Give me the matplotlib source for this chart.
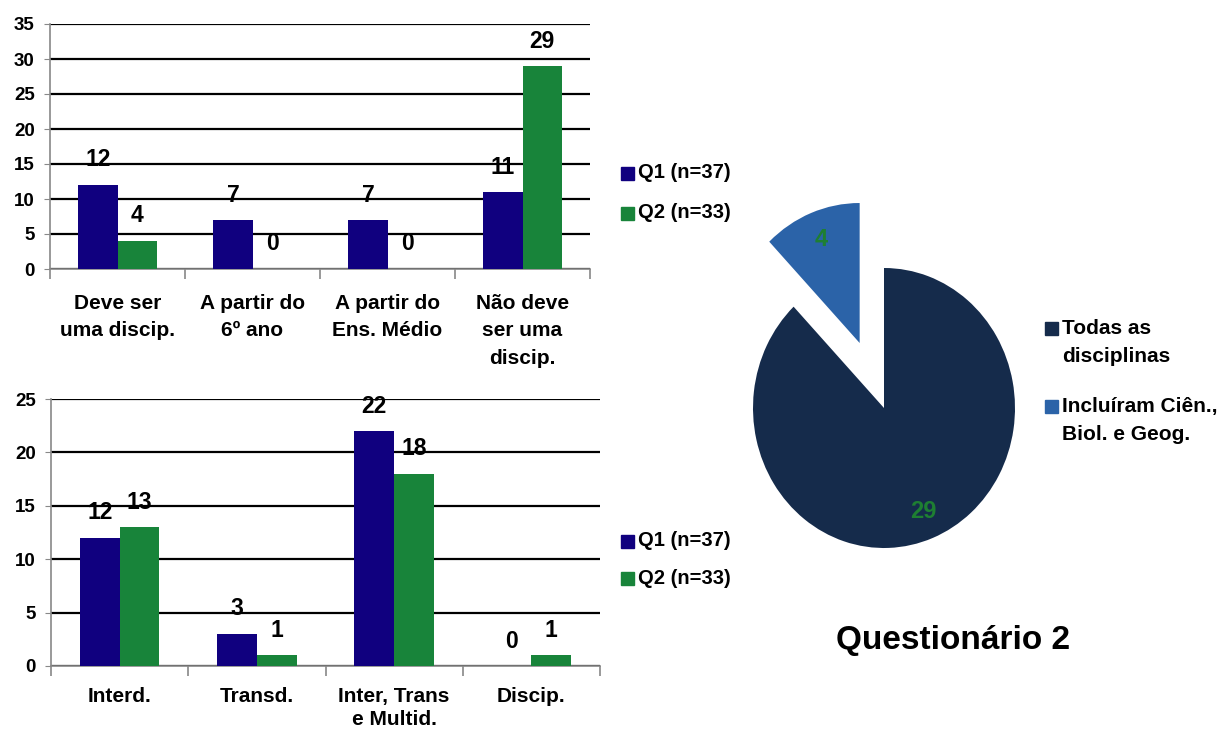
import numpy as np
import matplotlib
matplotlib.use('Agg')
import matplotlib.pyplot as plt
from matplotlib.patches import Rectangle

plt.rcParams['font.family'] = ['Liberation Sans', 'DejaVu Sans']
plt.rcParams['font.weight'] = 'bold'

# dados dos gráficos
cats_top = ['Deve ser\numa discip.', 'A partir do\n6º ano', 'A partir do\nEns. Médio', 'Não deve\nser uma\ndiscip.']
q1_top = [12, 7, 7, 11]
q2_top = [4, 0, 0, 29]

cats_bot = ['Interd.', 'Transd.', 'Inter, Trans\ne Multid.', 'Discip.']
q1_bot = [12, 3, 22, 0]
q2_bot = [13, 1, 18, 1]

series = ['Q1 (n=37)', 'Q2 (n=33)']

pie_labels = ['Todas as\ndisciplinas', 'Incluíram Ciên.,\nBiol. e Geog.']
pie_vals = [29, 4]
pie_title = 'Questionário 2'

c_q1 = '#10007F'
c_q2 = '#18843A'
c_pie = ['#152B4B', '#2B63A8']
c_lbl = '#1E7F32'

W, H = 1227, 730
fig = plt.figure(figsize=(W / 100, H / 100), dpi=100)


def barras(ax, cats, v1, v2, ymax, pad, ls):
    x = np.arange(len(cats))
    w = 0.29
    ax.bar(x - w / 2, v1, w, color=c_q1, zorder=3)
    ax.bar(x + w / 2, v2, w, color=c_q2, zorder=3)
    for xs, vs in ((x - w / 2, v1), (x + w / 2, v2)):
        for xi, v in zip(xs, vs):
            ax.annotate(str(v), (xi, v), xytext=(0, 18), textcoords='offset points',
                        ha='center', va='center', fontsize=16.5, fontweight='bold')
    ax.set_xlim(-0.5, len(cats) - 0.5)
    ax.set_ylim(0, ymax)
    ax.set_yticks(np.arange(0, ymax + 1, 5))
    ax.set_axisbelow(True)
    ax.yaxis.grid(True, color='black', lw=1.6)
    ax.set_xticks(x)
    ax.set_xticklabels(cats, fontsize=15, fontweight='bold', linespacing=ls)
    ax.set_xticks(np.arange(len(cats) + 1) - 0.5, minor=True)
    ax.tick_params(axis='x', which='major', length=0, pad=pad)
    ax.tick_params(axis='x', which='minor', length=7, color='#888888', width=1.2)
    ax.tick_params(axis='y', length=4, color='#888888', labelsize=13.5, pad=7)
    for s in ('top', 'right'):
        ax.spines[s].set_visible(False)
    for s in ('left', 'bottom'):
        ax.spines[s].set_color('#888888')
        ax.spines[s].set_linewidth(1.2)


def legenda(x, linhas, cores, textos, fs=14.5):
    # linhas: (centro do quadrado, centro do texto) em pixels a partir do topo
    for (yq, yt), c, t in zip(linhas, cores, textos):
        fig.patches.append(Rectangle((x / W, 1 - (yq + 6.5) / H), 13 / W, 13 / H,
                                     transform=fig.transFigure, color=c))
        fig.text((x + 17) / W, 1 - yt / H, t, ha='left', va='center',
                 fontsize=fs, fontweight='bold', linespacing=1.6)


ax1 = fig.add_axes([50 / W, 1 - 269 / H, 540 / W, 245 / H])
barras(ax1, cats_top, q1_top, q2_top, 35, 18, 1.55)

ax2 = fig.add_axes([51 / W, 1 - 666 / H, 549 / W, 267 / H])
barras(ax2, cats_bot, q1_bot, q2_bot, 25, 15, 1.3)

legenda(621, [(173, 173), (213, 213)], [c_q1, c_q2], series)
legenda(621, [(541, 541), (578, 578)], [c_q1, c_q2], series)

# gráfico de pizza
axp = fig.add_axes([687.5 / W, 1 - 618 / H, 393 / W, 420 / H])
axp.pie(pie_vals, explode=[0, 0.5], startangle=90, counterclock=False, colors=c_pie,
        autopct=lambda p: f'{p * sum(pie_vals) / 100:.0f}', pctdistance=0.8,
        wedgeprops=dict(linewidth=0),
        textprops=dict(color=c_lbl, fontsize=17, fontweight='bold'))
axp.set_aspect('auto')
axp.set_xlim(-1.5, 1.5)
axp.set_ylim(-1.5, 1.5)
axp.axis('off')

legenda(1045, [(328, 342), (406, 420.5)], c_pie, pie_labels, fs=15)

fig.text(953 / W, 1 - 641 / H, pie_title, ha='center', va='center',
         fontsize=24, fontweight='bold')

fig.savefig('out.png', dpi=100)
